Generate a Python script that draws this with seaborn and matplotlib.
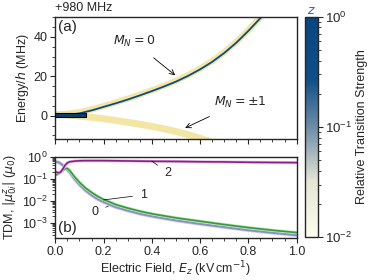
import numpy as np
import matplotlib
matplotlib.use("Agg")
import matplotlib.pyplot as plt
import seaborn as sns
from matplotlib.colors import LinearSegmentedColormap, LogNorm
from matplotlib.patches import Rectangle
from matplotlib.ticker import AutoMinorLocator, MultipleLocator, LogLocator, NullFormatter

# panel (a): transition energies (offset by +980 MHz)
field_a = [0, 0.05, 0.1, 0.15, 0.2, 0.25, 0.3, 0.35, 0.4, 0.45, 0.5,
           0.55, 0.6, 0.65, 0.7, 0.75, 0.8, 0.85, 0.9]
mn0_strong = [0.2, 0.4, 1.2, 2.7, 4.5, 6.3, 8.2, 10.3, 12.5, 14.8, 17.3,
              20.2, 23.5, 27.3, 31.8, 37.0, 43.0, 49.5, 56.0]
mn0_weak = [0.7, 1.0, 1.8, 3.2, 4.9, 6.7, 8.6, 10.7, 12.9, 15.2, 17.7,
            20.6, 23.9, 27.7, 32.2, 37.4, 43.4, 49.9, 56.4]
field_m1 = [0, 0.05, 0.1, 0.15, 0.2, 0.25, 0.3, 0.35, 0.4, 0.45, 0.5,
            0.55, 0.6, 0.65]
mn1_weak = [0.6, 0.4, -0.2, -0.8, -1.5, -2.4, -3.3, -4.3, -5.4, -6.6,
            -8.0, -9.6, -11.4, -13.5]

# panel (b): transition dipole moments
field_b = [0, 0.01, 0.02, 0.03, 0.04, 0.05, 0.06, 0.08, 0.1, 0.125, 0.15,
           0.175, 0.2, 0.25, 0.3, 0.35, 0.4, 0.5, 0.6, 0.7, 0.8, 0.9, 1.0]
tdm_0 = [0.58, 0.56, 0.5, 0.41, 0.32, 0.25, 0.19, 0.095, 0.053, 0.029,
         0.018, 0.012, 0.0088, 0.0052, 0.0036, 0.0026, 0.002, 0.0013,
         0.0009, 0.00065, 0.00047, 0.00036, 0.00028]
tdm_1 = [0.145, 0.16, 0.19, 0.23, 0.28, 0.29, 0.23, 0.12, 0.068, 0.038,
         0.024, 0.016, 0.0115, 0.0068, 0.0047, 0.0034, 0.0026, 0.0017,
         0.0012, 0.00085, 0.00062, 0.00047, 0.00037]
tdm_2 = [0.21, 0.185, 0.19, 0.26, 0.4, 0.52, 0.58, 0.62, 0.64, 0.65, 0.65,
         0.65, 0.65, 0.64, 0.63, 0.62, 0.61, 0.6, 0.58, 0.57, 0.55, 0.54,
         0.53]

sns.set_theme(style="ticks")
plt.rcParams['font.family'] = ['Liberation Sans', 'DejaVu Sans']
plt.rcParams['font.size'] = 9
plt.rcParams['axes.labelsize'] = 9
plt.rcParams['axes.titlesize'] = 9
plt.rcParams['axes.linewidth'] = 1.0
plt.rcParams['xtick.labelsize'] = 9
plt.rcParams['ytick.labelsize'] = 9
plt.rcParams['mathtext.fontset'] = 'dejavusans'

strength_cmap = LinearSegmentedColormap.from_list(
    "strength", [(0.0, "#fefdf0"), (0.25, "#e6e6d6"), (0.5, "#6d8ca6"),
                 (0.72, "#0f4e86"), (1.0, "#07467f")])

fig = plt.figure(figsize=(3.74, 2.80), dpi=100)
ax_a = fig.add_axes([0.148, 0.502, 0.645, 0.437])
ax_b = fig.add_axes([0.148, 0.150, 0.645, 0.291])
cax = fig.add_axes([0.816, 0.153, 0.033, 0.787])

pale = "#f3e6a4"
dark = "#0a4a85"

# (a) energy levels
sns.lineplot(x=field_m1, y=mn1_weak, ax=ax_a, color=pale, lw=5, solid_capstyle="butt")
sns.lineplot(x=field_a, y=mn0_weak, ax=ax_a, color=pale, lw=4.5, solid_capstyle="butt")
sns.lineplot(x=field_a, y=mn0_strong, ax=ax_a, color=dark, lw=1.3)
ax_a.add_patch(Rectangle((0, -0.8), 0.127, 2.0, facecolor="#0d3f6e",
                         edgecolor="black", lw=0.8, zorder=5))
ax_a.set_xlim(0, 1.0)
ax_a.set_ylim(-12, 50)
ax_a.yaxis.set_major_locator(MultipleLocator(20))
ax_a.yaxis.set_minor_locator(AutoMinorLocator(4))
ax_a.xaxis.set_major_locator(MultipleLocator(0.2))
ax_a.xaxis.set_minor_locator(AutoMinorLocator(4))
ax_a.tick_params(axis="x", labelbottom=False)
ax_a.set_ylabel("Energy/$h$ (MHz)")
ax_a.text(0.0, 1.025, "+980 MHz", transform=ax_a.transAxes, ha="left", va="bottom", fontsize=9)
ax_a.text(0.012, 0.98, "(a)", transform=ax_a.transAxes, ha="left", va="top", fontsize=11)
ax_a.annotate("$M_N = 0$", xy=(0.497, 20.5), xytext=(0.325, 37.5), ha="center", va="center",
              fontsize=9, arrowprops=dict(arrowstyle="->", lw=0.6, color="black",
                                          shrinkA=6, shrinkB=0))
ax_a.annotate(r"$M_N = \pm1$", xy=(0.538, -6.2), xytext=(0.765, 6.9), ha="center", va="center",
              fontsize=9, arrowprops=dict(arrowstyle="->", lw=0.6, color="black",
                                          shrinkA=6, shrinkB=0))

# (b) transition dipole moments
sns.lineplot(x=field_b, y=tdm_0, ax=ax_b, color="#cfcfe8", lw=2.6)
sns.lineplot(x=field_b, y=tdm_0, ax=ax_b, color="#8e8ec2", lw=1.4)
sns.lineplot(x=field_b, y=tdm_1, ax=ax_b, color="#bfe4ba", lw=2.2)
sns.lineplot(x=field_b, y=tdm_1, ax=ax_b, color="#2f9e3a", lw=1.2)
sns.lineplot(x=field_b, y=tdm_2, ax=ax_b, color="#e6bfe4", lw=2.2)
sns.lineplot(x=field_b, y=tdm_2, ax=ax_b, color="#8a1e8a", lw=1.2)
ax_b.set_yscale("log")
ax_b.set_xlim(0, 1.0)
ax_b.set_ylim(2.1e-4, 1.0)
ax_b.yaxis.set_major_locator(LogLocator(base=10, numticks=10))
ax_b.yaxis.set_minor_locator(LogLocator(base=10, subs=np.arange(2, 10), numticks=10))
ax_b.yaxis.set_minor_formatter(NullFormatter())
ax_b.xaxis.set_major_locator(MultipleLocator(0.2))
ax_b.xaxis.set_minor_locator(AutoMinorLocator(4))
ax_b.set_xlabel("Electric Field, $E_z$ (kV$\\,$cm$^{-1}$)", labelpad=1)
ax_b.set_ylabel("TDM, $|\\mu^z_{0i}|$ ($\\mu_0$)")
ax_b.text(0.012, 0.04, "(b)", transform=ax_b.transAxes, ha="left", va="bottom", fontsize=11)
line_kw = dict(arrowstyle="-", lw=0.5, color="black", shrinkA=3, shrinkB=0)
ax_b.annotate("2", xy=(0.40, 0.63), xytext=(0.465, 0.18), ha="center", va="center",
              fontsize=9, arrowprops=line_kw)
ax_b.annotate("1", xy=(0.20, 0.011), xytext=(0.365, 0.0185), ha="center", va="center",
              fontsize=9, arrowprops=line_kw)
ax_b.annotate("0", xy=(0.22, 0.0058), xytext=(0.165, 0.0032), ha="center", va="center",
              fontsize=9, arrowprops=line_kw)

for ax in (ax_a, ax_b):
    ax.tick_params(which="major", direction="out", length=3.5, width=0.8, pad=2)
    ax.tick_params(which="minor", direction="out", length=2, width=0.6)
    ax.yaxis.labelpad = 2

# colorbar
sm = plt.cm.ScalarMappable(norm=LogNorm(1e-2, 1), cmap=strength_cmap)
cb = fig.colorbar(sm, cax=cax)
cb.set_label("Relative Transition Strength", fontsize=9, labelpad=3)
cb.outline.set_linewidth(1.0)
cax.tick_params(which="major", length=3.5, width=0.8, pad=2, labelsize=9.5)
cax.tick_params(which="minor", length=2, width=0.6)
cax.set_title("$z$", color="#2a66a8", fontsize=9, pad=1)

fig.savefig("out.png", dpi=100)
